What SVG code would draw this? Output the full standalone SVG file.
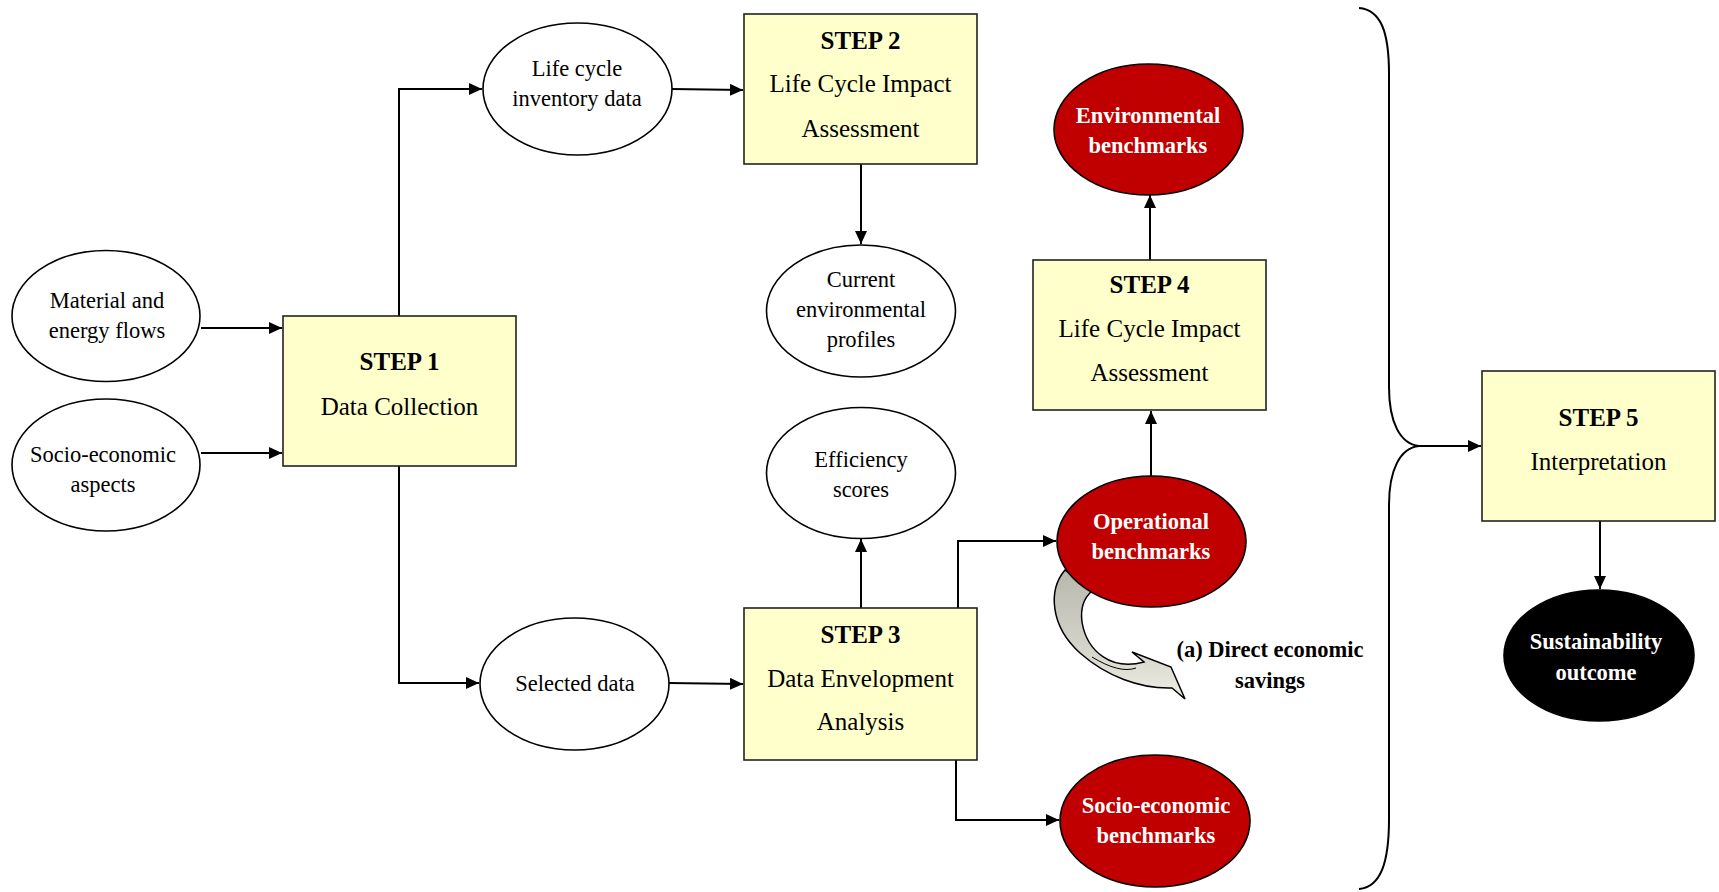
<svg xmlns="http://www.w3.org/2000/svg" width="1719" height="892" viewBox="0 0 1719 892">
<defs>
<marker id="ah" markerUnits="userSpaceOnUse" markerWidth="14" markerHeight="12" refX="13" refY="6" orient="auto">
<path d="M0,0 L13,6 L0,12 z" fill="#000"/>
</marker>
<linearGradient id="cg" x1="0" y1="0" x2="0" y2="1">
<stop offset="0" stop-color="#b9b8ae"/>
<stop offset="0.55" stop-color="#d2d1c7"/>
<stop offset="1" stop-color="#efeee4"/>
</linearGradient>
<style>
.box{fill:#ffffcc;stroke:#222;stroke-width:1.6}
.ell{fill:#fff;stroke:#000;stroke-width:1.6}
.red{fill:#c00000;stroke:#000;stroke-width:1.6}
.blk{fill:#000;stroke:#000;stroke-width:1.6}
.con{fill:none;stroke:#000;stroke-width:2;marker-end:url(#ah)}
text{font-family:"Liberation Serif","Times New Roman",serif;text-anchor:middle}
.bt{font-size:25px;fill:#000}
.bh{font-size:25px;font-weight:bold;fill:#000}
.et{font-size:22.5px;fill:#000}
.wt{font-size:22.5px;font-weight:bold;fill:#fff}
.lab{font-size:22.5px;font-weight:bold;fill:#000}
</style>
</defs>

<g id="connectors">
<path class="con" d="M201,328 L282,328"/>
<path class="con" d="M201,453 L282,453"/>
<path class="con" d="M399,316 L399,89 L482,89"/>
<path class="con" d="M672,89 L743,90"/>
<path class="con" d="M861,164 L861,244"/>
<path class="con" d="M399,466 L399,683 L479,683"/>
<path class="con" d="M669,683 L743,684"/>
<path class="con" d="M861,608 L861,539"/>
<path class="con" d="M958,608 L958,541 L1056,541"/>
<path class="con" d="M1151,476 L1151,411"/>
<path class="con" d="M1150,260 L1150,195"/>
<path class="con" d="M956,760 L956,820 L1059,820"/>
<path class="con" d="M1419,446 L1481,446"/>
<path class="con" d="M1600,521 L1600,589"/>
<path fill="none" stroke="#000" stroke-width="2" d="M1359,8 C1381,10 1389,32 1389,74 L1389,387 C1389,422 1400,444 1419,446 C1400,448 1389,470 1389,505 L1389,819 C1389,862 1381,887 1359,889"/>
</g>

<g id="savings-arrow">
<path fill="url(#cg)" stroke="#000" stroke-width="1.5" d="M1065,570 C1048,590 1050,626 1080,653 C1106,676 1140,689 1172,688 L1185,699 L1171,667 L1132,652 L1144,662 C1112,671 1087,652 1082,622 C1080,607 1085,597 1092,591 Z"/>
<path fill="none" stroke="#000" stroke-width="1" d="M1092,657 C1110,668 1125,672 1136,668"/>
<text class="lab" x="1270" y="657">(a) Direct economic</text>
<text class="lab" x="1270" y="688">savings</text>
</g>

<g id="material">
<ellipse class="ell" cx="106" cy="316" rx="94" ry="65.5"/>
<text class="et" x="107" y="308">Material and</text>
<text class="et" x="107" y="338">energy flows</text>
</g>
<g id="socio-aspects">
<ellipse class="ell" cx="106" cy="465" rx="94" ry="66"/>
<text class="et" x="103" y="462">Socio-economic</text>
<text class="et" x="103" y="492">aspects</text>
</g>
<g id="step1">
<rect class="box" x="283" y="316" width="233" height="150"/>
<text class="bh" x="399.5" y="370">STEP 1</text>
<text class="bt" x="399.5" y="415">Data Collection</text>
</g>
<g id="lci-data">
<ellipse class="ell" cx="577.5" cy="89" rx="94.5" ry="66"/>
<text class="et" x="577" y="76">Life cycle</text>
<text class="et" x="577" y="106">inventory data</text>
</g>
<g id="step2">
<rect class="box" x="744" y="14" width="233" height="150"/>
<text class="bh" x="860.5" y="49">STEP 2</text>
<text class="bt" x="860.5" y="92">Life Cycle Impact</text>
<text class="bt" x="860.5" y="137">Assessment</text>
</g>
<g id="current-profiles">
<ellipse class="ell" cx="861" cy="311" rx="94.5" ry="66"/>
<text class="et" x="861" y="287">Current</text>
<text class="et" x="861" y="317">environmental</text>
<text class="et" x="861" y="347">profiles</text>
</g>
<g id="efficiency">
<ellipse class="ell" cx="861" cy="473" rx="94.5" ry="65.5"/>
<text class="et" x="861" y="467">Efficiency</text>
<text class="et" x="861" y="497">scores</text>
</g>
<g id="selected">
<ellipse class="ell" cx="574.5" cy="684" rx="94.5" ry="66"/>
<text class="et" x="575" y="691">Selected data</text>
</g>
<g id="step3">
<rect class="box" x="744" y="608" width="233" height="152"/>
<text class="bh" x="860.5" y="643">STEP 3</text>
<text class="bt" x="860.5" y="687">Data Envelopment</text>
<text class="bt" x="860.5" y="730">Analysis</text>
</g>
<g id="env-bench">
<ellipse class="red" cx="1148.5" cy="129.5" rx="94.5" ry="65.5"/>
<text class="wt" x="1148" y="123">Environmental</text>
<text class="wt" x="1148" y="153">benchmarks</text>
</g>
<g id="step4">
<rect class="box" x="1033" y="260" width="233" height="150"/>
<text class="bh" x="1149.5" y="293">STEP 4</text>
<text class="bt" x="1149.5" y="337">Life Cycle Impact</text>
<text class="bt" x="1149.5" y="381">Assessment</text>
</g>
<g id="op-bench">
<ellipse class="red" cx="1151.5" cy="541.5" rx="94.5" ry="65.5"/>
<text class="wt" x="1151" y="529">Operational</text>
<text class="wt" x="1151" y="559">benchmarks</text>
</g>
<g id="socio-bench">
<ellipse class="red" cx="1155" cy="821" rx="95" ry="66"/>
<text class="wt" x="1156" y="813">Socio-economic</text>
<text class="wt" x="1156" y="843">benchmarks</text>
</g>
<g id="step5">
<rect class="box" x="1482" y="371" width="233" height="150"/>
<text class="bh" x="1598.5" y="426">STEP 5</text>
<text class="bt" x="1598.5" y="470">Interpretation</text>
</g>
<g id="sustainability">
<ellipse class="blk" cx="1599" cy="655.5" rx="95" ry="65.5"/>
<text class="wt" x="1596" y="649">Sustainability</text>
<text class="wt" x="1596" y="680">outcome</text>
</g>
</svg>
